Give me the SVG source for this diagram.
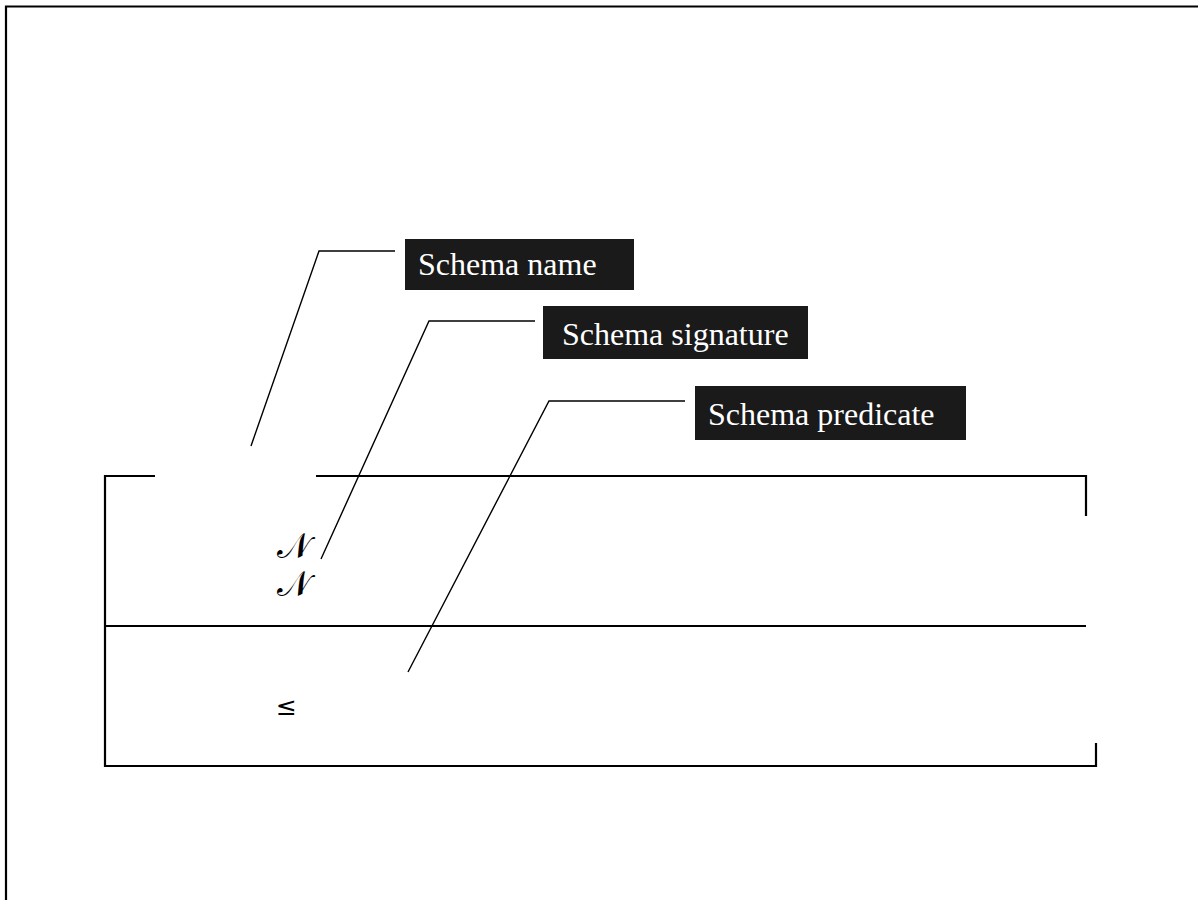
<svg xmlns="http://www.w3.org/2000/svg" width="1198" height="900" viewBox="0 0 1198 900">
  <style>
    .frame { fill: none; stroke: #000; stroke-width: 2.2; }
    .leader { fill: none; stroke: #000; stroke-width: 1.4; }
    .tag-box { fill: #1a1a1a; }
    .tag-text { font-family: "Liberation Serif", "Times New Roman", serif; font-size: 32px; fill: #fff; }
    .script { font-family: "DejaVu Serif", "DejaVu Sans", "Noto Sans", serif; font-size: 35px; fill: #000; }
    .sym { font-family: "DejaVu Sans", "Liberation Sans", sans-serif; font-size: 25px; fill: #000; }
  </style>
  <rect width="1198" height="900" fill="#fff"/>

  <!-- page border -->
  <path class="frame" d="M6,905 V6.5 H1205"/>

  <!-- schema box outline -->
  <g id="schema-box">
    <path class="frame" d="M155,476 H105 V766 H1096 V743"/>
    <path class="frame" d="M316,476 H1086 V516"/>
    <line class="frame" x1="105" y1="626" x2="1086" y2="626"/>
    <text class="script" x="277" y="558">𝒩</text>
    <text class="script" x="277" y="596">𝒩</text>
    <text class="sym" x="276" y="715">≤</text>
  </g>

  <!-- callout leaders -->
  <g id="connectors">
    <polyline class="leader" points="395,251 319,251 251,446"/>
    <polyline class="leader" points="535,321 429,321 321,559"/>
    <polyline class="leader" points="685,401 549,401 408,672"/>
  </g>

  <g id="label-name">
    <rect class="tag-box" x="405" y="239" width="229" height="51"/>
    <text class="tag-text" x="418" y="275">Schema name</text>
  </g>
  <g id="label-signature">
    <rect class="tag-box" x="543" y="306" width="265" height="53"/>
    <text class="tag-text" x="562" y="345">Schema signature</text>
  </g>
  <g id="label-predicate">
    <rect class="tag-box" x="695" y="386" width="271" height="54"/>
    <text class="tag-text" x="708" y="425">Schema predicate</text>
  </g>
</svg>
